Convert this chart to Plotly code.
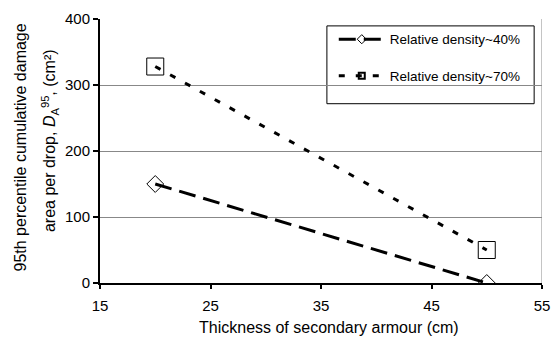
import plotly.graph_objects as go

thickness = [20, 50]
dens40 = [150, 0]
dens70 = [328, 50]
names = ["Relative density~40%", "Relative density~70%"]
x_ticks = [15, 25, 35, 45, 55]
y_ticks = [0, 100, 200, 300, 400]
x_title = "Thickness of secondary armour (cm)"
y_title = ["95th percentile cumulative damage",
           "area per drop, <i>D</i><sub>A</sub><sup>95</sup>, (cm²)"]

FONT = "Liberation Sans, Arial, sans-serif"
L, R, T, B = 100, 10, 15, 57
W, H = 560, 340
pw, ph = W - L - R, H - T - B

def px_x(p):
    return (p - L) / pw

def px_y(p):
    return 1 - (p - T) / ph

fig = go.Figure()
fig.add_trace(go.Scatter(x=thickness, y=dens40, name=names[0], mode="lines+markers",
    showlegend=False,
    line=dict(color="black", width=3, dash="17px,8px"),
    marker=dict(symbol="diamond-open", size=13, color="black", line=dict(width=1))))
fig.add_trace(go.Scatter(x=thickness, y=dens70, name=names[1], mode="lines+markers",
    showlegend=False,
    line=dict(color="black", width=3, dash="6px,11px"),
    marker=dict(symbol="square-open", size=17, color="black", line=dict(width=1))))
fig.add_trace(go.Scatter(x=[None], y=[None], name=names[0], mode="lines+markers",
    legendgroup="a", line=dict(color="black", width=3, dash="17px,8px"),
    marker=dict(symbol="diamond-open", size=7, color="black", line=dict(width=1))))
fig.add_trace(go.Scatter(x=[None], y=[None], name=names[1], mode="lines+markers",
    legendgroup="b", line=dict(color="black", width=3, dash="6px,11px"),
    marker=dict(symbol="square-open", size=6, color="black", line=dict(width=2))))

fig.update_layout(
    width=W, height=H, margin=dict(l=L, r=R, t=T, b=B),
    paper_bgcolor="white", plot_bgcolor="white",
    font=dict(family=FONT, size=15, color="black"),
    showlegend=True,
    legend=dict(x=px_x(338), y=px_y(20), xanchor="left", yanchor="top",
                bgcolor="rgba(0,0,0,0)", borderwidth=0, font=dict(size=13.5),
                tracegroupgap=16, itemwidth=46, itemsizing="trace"),
    xaxis=dict(range=[15, 55], tickvals=x_ticks, showgrid=False,
               showline=True, linecolor="black", linewidth=2, ticks="outside",
               ticklen=4, tickwidth=2, tickcolor="black", zeroline=False,
               ticklabelstandoff=4),
    yaxis=dict(range=[0, 400], tickvals=y_ticks, showgrid=True,
               gridcolor="#888888", gridwidth=1,
               showline=True, linecolor="black", linewidth=2, ticks="outside",
               ticklen=5, tickwidth=2, tickcolor="black", zeroline=False),
)
fig.add_shape(type="rect", xref="paper", yref="paper",
              x0=px_x(331), x1=px_x(542), y0=px_y(101), y1=px_y(22),
              line=dict(color="black", width=1), fillcolor="white", layer="below")
fig.add_shape(type="line", xref="x", yref="paper", x0=55, x1=55, y0=0, y1=1,
              line=dict(color="#888888", width=1))
fig.add_annotation(text=x_title, xref="paper", yref="paper",
                   x=px_x(333), y=px_y(328), showarrow=False,
                   xanchor="center", yanchor="middle", font=dict(size=16))
fig.add_annotation(text=y_title[0], xref="paper", yref="paper",
                   x=px_x(19), y=px_y(145), textangle=-90, showarrow=False,
                   xanchor="center", yanchor="middle", font=dict(size=16))
fig.add_annotation(text=y_title[1], xref="paper", yref="paper",
                   x=px_x(49), y=px_y(138), textangle=-90, showarrow=False,
                   xanchor="center", yanchor="middle", font=dict(size=16))
fig.write_html("out.html")
